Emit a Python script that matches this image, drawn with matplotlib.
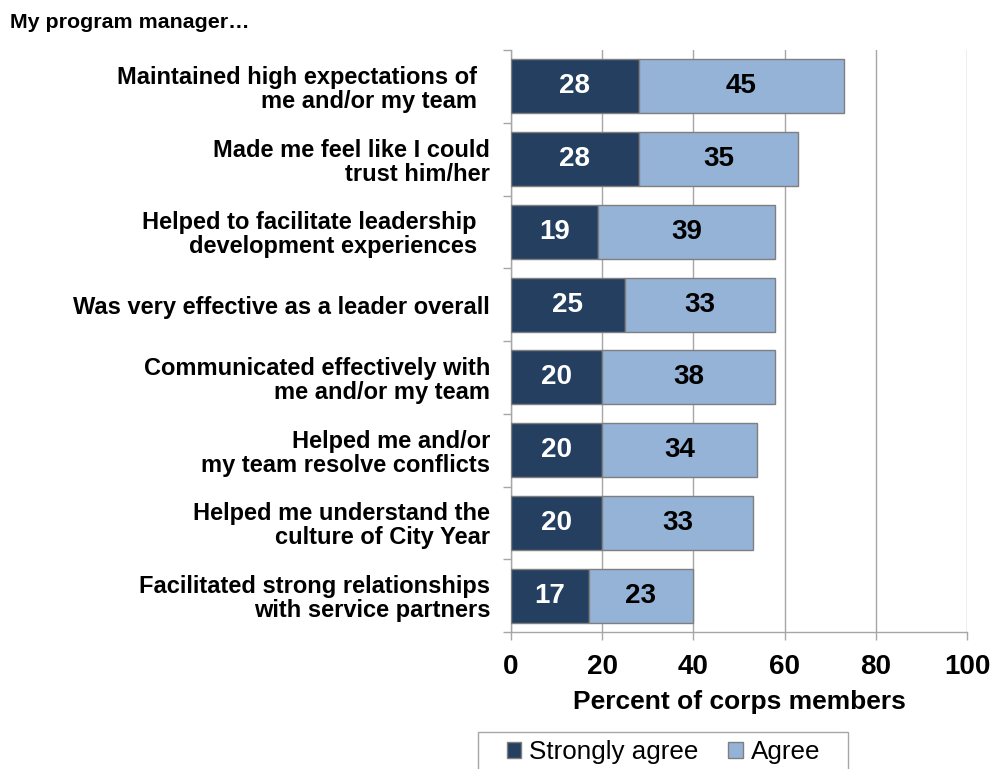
import matplotlib
matplotlib.use("Agg")
import matplotlib.pyplot as plt
from matplotlib.patches import Patch, Rectangle

categories = [
    "Maintained high expectations of  \nme and/or my team  ",
    "Made me feel like I could\ntrust him/her",
    "Helped to facilitate leadership  \ndevelopment experiences  ",
    "Was very effective as a leader overall",
    "Communicated effectively with\nme and/or my team",
    "Helped me and/or\nmy team resolve conflicts",
    "Helped me understand the\nculture of City Year",
    "Facilitated strong relationships\nwith service partners",
]
strongly_agree = [28, 28, 19, 25, 20, 20, 20, 17]
agree = [45, 35, 39, 33, 38, 34, 33, 23]
series_names = ["Strongly agree", "Agree"]
x_ticks = [0, 20, 40, 60, 80, 100]

plt.rcParams['font.family'] = ['Liberation Sans', 'DejaVu Sans']

dark = "#243F60"
light = "#95B3D7"
edge = "#7F7F7F"
grid = "#A6A6A6"

fig = plt.figure(figsize=(9.93, 7.69), dpi=100)
ax = fig.add_axes([511/993, 1-632/769, (967-511)/993, (632-50)/769])

n = len(categories)
ypos = list(range(n))
h = 0.74
ax.barh(ypos, strongly_agree, height=h, color=dark, edgecolor=edge, linewidth=1, zorder=3)
ax.barh(ypos, agree, left=strongly_agree, height=h, color=light, edgecolor=edge, linewidth=1, zorder=3)

for i in range(n):
    ax.text(strongly_agree[i]/2, i, str(strongly_agree[i]), ha='center', va='center',
            color='white', fontsize=20, fontweight='bold', zorder=4)
    ax.text(strongly_agree[i] + agree[i]/2, i, str(agree[i]), ha='center', va='center',
            color='black', fontsize=20, fontweight='bold', zorder=4)

ax.set_ylim(n - 0.5, -0.5)
ax.set_xlim(0, 100)
ax.set_xticks(x_ticks)
ax.set_xticklabels([str(t) for t in x_ticks], fontsize=20, fontweight='bold')
ax.xaxis.grid(True, color=grid, linewidth=1, zorder=0)
ax.set_axisbelow(True)

ax.set_yticks([i - 0.5 for i in range(n + 1)], minor=False)
ax.set_yticklabels([])
ax.set_yticks(ypos, minor=True)
ax.set_yticklabels(categories, minor=True, fontsize=17, fontweight='bold', linespacing=1.05)
ax.tick_params(axis='y', which='minor', length=0, pad=15)
ax.tick_params(axis='y', which='major', length=6, color=grid, width=1)
ax.tick_params(axis='x', length=6, color=grid, width=1, pad=10)

for s in ['top', 'right']:
    ax.spines[s].set_visible(False)
for s in ['left', 'bottom']:
    ax.spines[s].set_color(grid)
    ax.spines[s].set_linewidth(1)

ax.set_xlabel("Percent of corps members", fontsize=19, fontweight='bold', labelpad=7)

fig.text(10/993, 1-22/769, "My program manager…", fontsize=15.4, fontweight='bold',
         ha='left', va='center')

handles = [Patch(facecolor=dark, edgecolor=edge), Patch(facecolor=light, edgecolor=edge)]
leg = fig.legend(handles, series_names, loc='center left', bbox_to_anchor=(507/993, 1-752/769),
                 ncol=2, fontsize=18.75, frameon=False,
                 handlelength=0.55, handleheight=0.55, handletextpad=0.3, columnspacing=1.15,
                 borderpad=0, borderaxespad=0)
fig.patches.append(Rectangle((478/993, -0.02), (848-478)/993, 0.02 + (769-732)/769,
                             transform=fig.transFigure, fill=False, edgecolor=grid,
                             linewidth=1))

fig.savefig("out.png", dpi=100)
